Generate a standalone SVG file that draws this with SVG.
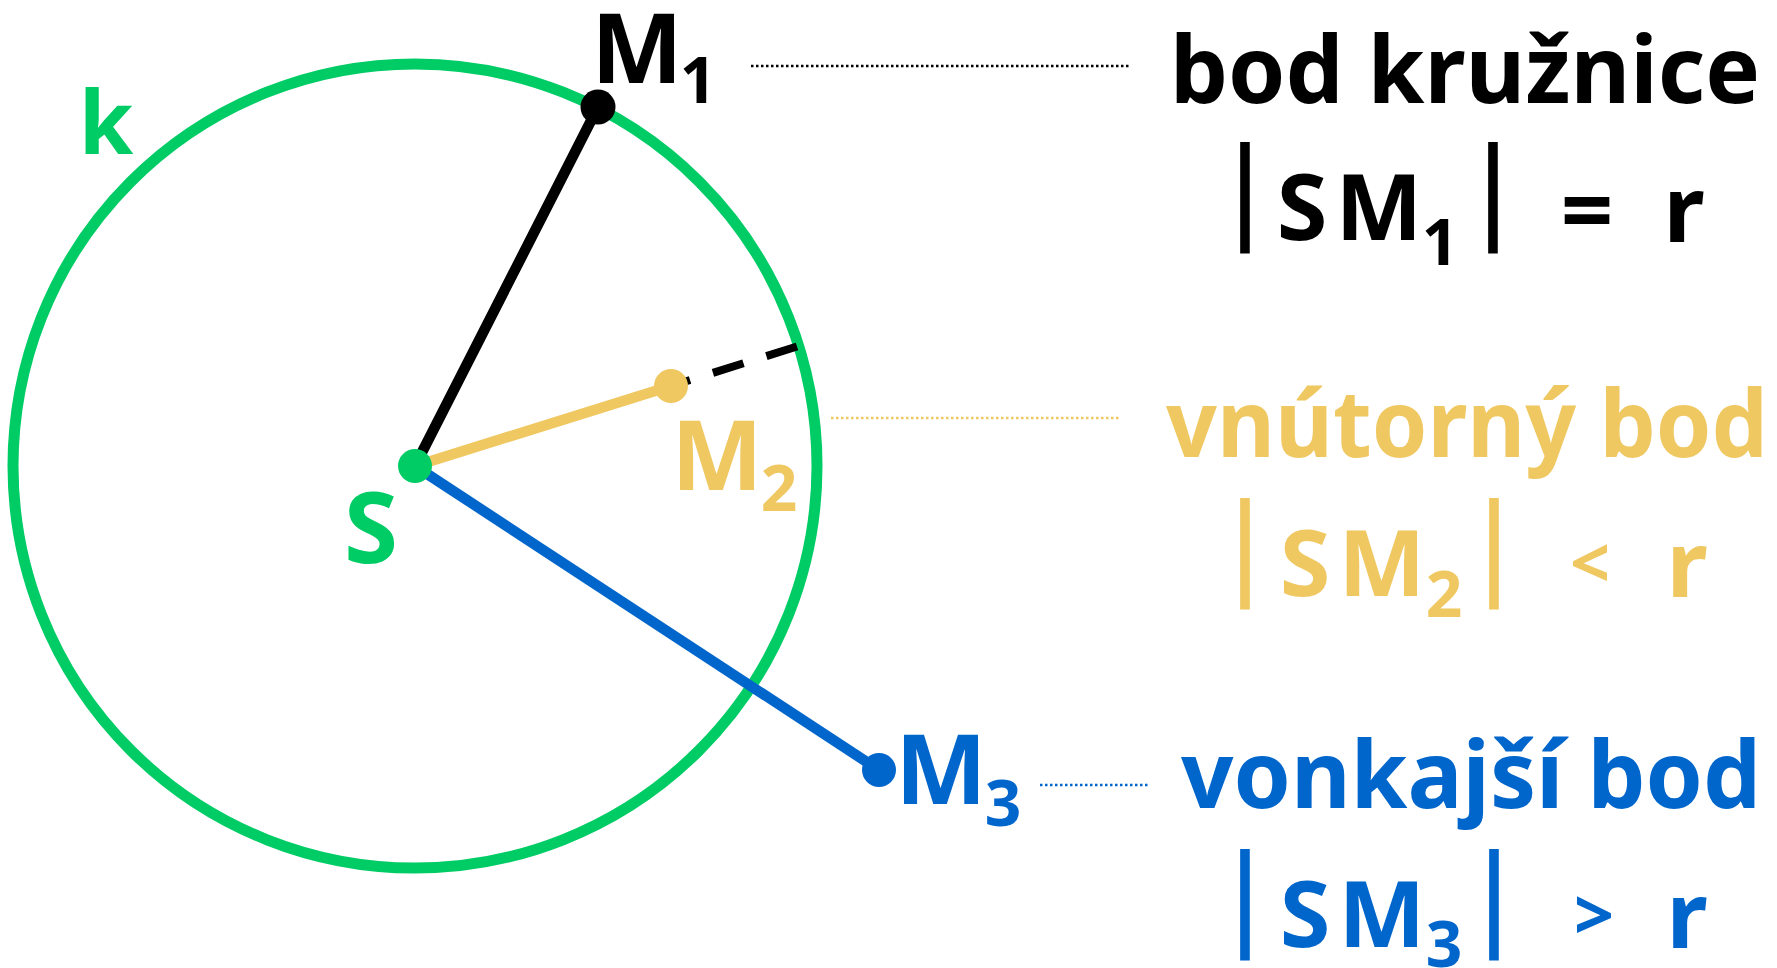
<svg xmlns="http://www.w3.org/2000/svg" width="1777" height="968" viewBox="0 0 1777 968">
<style>
text { font-family: "Noto Sans", "Liberation Sans", sans-serif; font-weight: bold; }
.bar { font-family: "Liberation Sans", sans-serif; font-weight: normal; font-size: 119px; text-anchor: middle; }
.mid { text-anchor: middle; }
.g { fill: #00CC66; }
.k { fill: #000000; }
.y { fill: #F0C862; }
.b { fill: #0066CC; }
.big { font-size: 97px; }
.sub { font-size: 64px; }
.title { font-size: 93px; }
.f { font-size: 92px; }
.seg { stroke-width: 10.5; fill: none; stroke-linecap: round; }
.lead { stroke-width: 2.5; fill: none; stroke-dasharray: 2.5 2.5; }
</style>
<rect width="1777" height="968" fill="#FFFFFF"/>
<g id="circle-k">
  <circle cx="415" cy="466" r="402" fill="none" stroke="#00CC66" stroke-width="11"/>
  <text class="g mid" x="106" y="154" font-size="88">k</text>
</g>
<g id="connectors">
  <line class="seg" x1="415" y1="466" x2="598" y2="107" stroke="#000000"/>
  <line class="seg" x1="415" y1="466" x2="671" y2="386" stroke="#F0C862"/>
  <line class="seg" x1="415" y1="466" x2="879" y2="770" stroke="#0066CC"/>
  <line x1="680.5" y1="383" x2="797" y2="346.5" stroke="#000000" stroke-width="8" stroke-dasharray="10 24 32 24 40"/>
  <line class="lead" x1="751" y1="66" x2="1131" y2="66" stroke="#000000"/>
  <line class="lead" x1="831" y1="418" x2="1120" y2="418" stroke="#F0C862"/>
  <line class="lead" x1="1040" y1="785" x2="1149" y2="785" stroke="#0066CC"/>
</g>
<g id="point-S">
  <circle cx="415" cy="466" r="17" fill="#00CC66"/>
  <text class="g mid" x="371" y="563" font-size="98">S</text>
</g>
<g id="point-M1">
  <circle cx="598" cy="107" r="17.5" fill="#000000"/>
  <text class="k mid big" x="637" y="83">M</text>
  <text class="k mid sub" x="698" y="103">1</text>
</g>
<g id="point-M2">
  <circle cx="671" cy="386" r="17" fill="#F0C862"/>
  <text class="y mid big" x="717" y="490">M</text>
  <text class="y mid sub" x="779" y="511">2</text>
</g>
<g id="point-M3">
  <circle cx="879" cy="770" r="17" fill="#0066CC"/>
  <text class="b mid big" x="941" y="804">M</text>
  <text class="b mid sub" x="1003" y="826">3</text>
</g>
<g id="label-M1">
  <text class="k title" x="1170" y="103" textLength="590" lengthAdjust="spacingAndGlyphs">bod kružnice</text>
  <text class="k bar" x="1245" y="228">|</text>
  <text class="k f mid" x="1302" y="240">S</text>
  <text class="k f mid" x="1379" y="240">M</text>
  <text class="k sub mid" x="1440" y="265">1</text>
  <text class="k bar" x="1493" y="228">|</text>
  <text class="k f mid" x="1587" y="243">=</text>
  <text class="k f mid" x="1684" y="242">r</text>
</g>
<g id="label-M2">
  <text class="y title" x="1166" y="457" textLength="602" lengthAdjust="spacingAndGlyphs">vnútorný bod</text>
  <text class="y bar" x="1245" y="584">|</text>
  <text class="y f mid" x="1305" y="596">S</text>
  <text class="y f mid" x="1382" y="596">M</text>
  <text class="y sub mid" x="1444" y="617">2</text>
  <text class="y bar" x="1494" y="584">|</text>
  <text class="y mid" x="1590" y="588" font-size="70">&lt;</text>
  <text class="y f mid" x="1687" y="597">r</text>
</g>
<g id="label-M3">
  <text class="b title" x="1181" y="808" textLength="580" lengthAdjust="spacingAndGlyphs">vonkajší bod</text>
  <text class="b bar" x="1245" y="935">|</text>
  <text class="b f mid" x="1305" y="947">S</text>
  <text class="b f mid" x="1382" y="947">M</text>
  <text class="b sub mid" x="1444" y="967">3</text>
  <text class="b bar" x="1494" y="935">|</text>
  <text class="b mid" x="1594" y="940" font-size="70">&gt;</text>
  <text class="b f mid" x="1687" y="948">r</text>
</g>
</svg>
